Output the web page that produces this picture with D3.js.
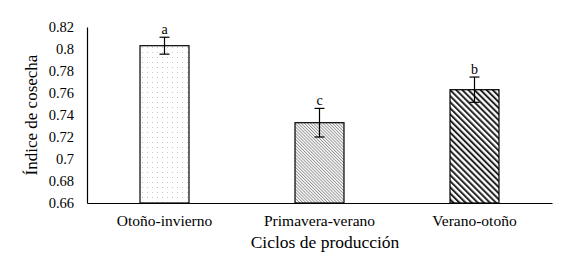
<!DOCTYPE html>
<html>
<head>
<meta charset="utf-8">
<script src="https://cdn.jsdelivr.net/npm/d3@7"></script>
<style>
  body { margin: 0; background: #fff; font-family: 'Liberation Serif'; }
  svg { display: block; }
</style>
</head>
<body>
<div id="container"></div>
<script>
const ciclos = ['Otoño-invierno', 'Primavera-verano', 'Verano-otoño']
const indice = [0.803, 0.733, 0.763]
const errores = [0.0077, 0.013, 0.0115]
const letras = ['a', 'c', 'b']
const yTicks = [0.66, 0.68, 0.7, 0.72, 0.74, 0.76, 0.78, 0.8, 0.82]
const patrones = ['puntos', 'rayasFinas', 'rayasGruesas']

const w = 576
const h = 254
const mLeft = 87
const mRight = 552
const mTop = 27
const mBottom = 203
const FONT = 'Liberation Serif'

const svg = d3.select('#container')
  .append('svg')
  .attr('width', w)
  .attr('height', h)
  .attr('font-family', FONT)

const defs = svg.append('defs')

// dotted fill
const p1 = defs.append('pattern')
  .attr('id', 'puntos')
  .attr('patternUnits', 'userSpaceOnUse')
  .attr('width', 5)
  .attr('height', 5)
p1.append('rect').attr('width', 5).attr('height', 5).attr('fill', '#fff')
p1.append('rect').attr('x', 2).attr('y', 2).attr('width', 1).attr('height', 1).attr('fill', '#c4c4c4')

// fine hatch
const p2 = defs.append('pattern')
  .attr('id', 'rayasFinas')
  .attr('patternUnits', 'userSpaceOnUse')
  .attr('width', 2.2)
  .attr('height', 2.2)
  .attr('patternTransform', 'rotate(-45)')
p2.append('rect').attr('width', 2.2).attr('height', 2.2).attr('fill', '#fff')
p2.append('line').attr('x1', 0.5).attr('y1', 0).attr('x2', 0.5).attr('y2', 2.2)
  .attr('stroke', '#7a7a7a').attr('stroke-width', 0.75)

// thick hatch
const p3 = defs.append('pattern')
  .attr('id', 'rayasGruesas')
  .attr('patternUnits', 'userSpaceOnUse')
  .attr('width', 4.3)
  .attr('height', 4.3)
  .attr('patternTransform', 'rotate(-45)')
p3.append('rect').attr('width', 4.3).attr('height', 4.3).attr('fill', '#fff')
p3.append('line').attr('x1', 1).attr('y1', 0).attr('x2', 1).attr('y2', 4.3)
  .attr('stroke', '#222').attr('stroke-width', 2)

const xScale = d3.scaleBand()
  .domain(ciclos)
  .range([mLeft, mRight])
  .paddingInner(0.684)
  .paddingOuter(0.342)

const yScale = d3.scaleLinear()
  .domain([0.66, 0.82])
  .range([mBottom, mTop])

const yAxis = d3.axisLeft(yScale)
  .tickValues(yTicks)
  .tickFormat(d => String(+d.toFixed(2)))
  .tickSize(0)
  .tickPadding(13)

const gy = svg.append('g')
  .attr('transform', 'translate(' + mLeft + ',0)')
  .call(yAxis)
  .attr('font-family', FONT)
  .attr('font-size', 14.5)
gy.select('.domain').attr('stroke', '#000').attr('stroke-width', 1.2)
gy.selectAll('text').attr('fill', '#000')

svg.selectAll('.bar')
  .data(indice)
  .enter().append('rect')
  .attr('class', 'bar')
  .attr('x', (d, i) => xScale(ciclos[i]))
  .attr('y', d => yScale(d))
  .attr('width', xScale.bandwidth())
  .attr('height', d => mBottom - yScale(d))
  .attr('fill', (d, i) => 'url(#' + patrones[i] + ')')
  .attr('stroke', '#000')
  .attr('stroke-width', 1.2)

const xAxis = d3.axisBottom(xScale).tickSize(0).tickPadding(12)
const gx = svg.append('g')
  .attr('transform', 'translate(0,' + mBottom + ')')
  .call(xAxis)
  .attr('font-family', FONT)
  .attr('font-size', 15.5)
gx.select('.domain').attr('stroke', '#000').attr('stroke-width', 1.2)
gx.selectAll('text').attr('fill', '#000')

// error bars
const eb = svg.selectAll('.err')
  .data(indice)
  .enter().append('g')
  .attr('class', 'err')
  .attr('stroke', '#000')
  .attr('stroke-width', 1.2)

const cx = i => xScale(ciclos[i]) + xScale.bandwidth() / 2
eb.append('line')
  .attr('x1', (d, i) => cx(i)).attr('x2', (d, i) => cx(i))
  .attr('y1', (d, i) => yScale(d + errores[i]))
  .attr('y2', (d, i) => yScale(d - errores[i]))
eb.append('line')
  .attr('x1', (d, i) => cx(i) - 5).attr('x2', (d, i) => cx(i) + 5)
  .attr('y1', (d, i) => yScale(d + errores[i]))
  .attr('y2', (d, i) => yScale(d + errores[i]))
eb.append('line')
  .attr('x1', (d, i) => cx(i) - 5).attr('x2', (d, i) => cx(i) + 5)
  .attr('y1', (d, i) => yScale(d - errores[i]))
  .attr('y2', (d, i) => yScale(d - errores[i]))

svg.selectAll('.letra')
  .data(indice)
  .enter().append('text')
  .attr('class', 'letra')
  .attr('x', (d, i) => cx(i))
  .attr('y', (d, i) => yScale(d + errores[i]) - 3)
  .attr('text-anchor', 'middle')
  .attr('font-size', 14)
  .text((d, i) => letras[i])

svg.append('text')
  .attr('transform', 'rotate(-90)')
  .attr('x', -115)
  .attr('y', 37)
  .attr('text-anchor', 'middle')
  .attr('font-size', 17)
  .text('Índice de cosecha')

svg.append('text')
  .attr('x', 325)
  .attr('y', 248)
  .attr('text-anchor', 'middle')
  .attr('font-size', 17.5)
  .text('Ciclos de producción')
</script>
</body>
</html>
